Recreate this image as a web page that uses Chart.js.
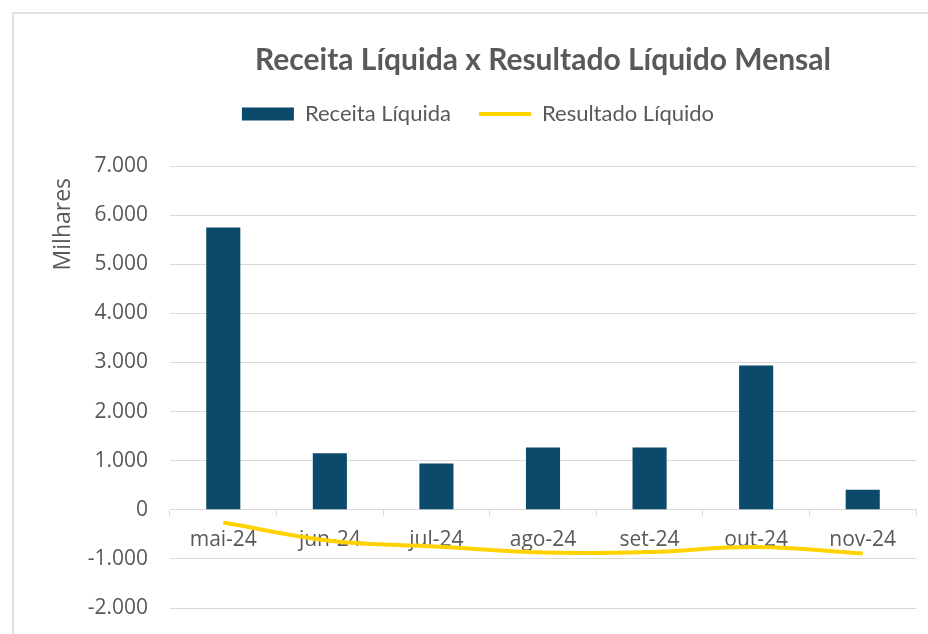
<!DOCTYPE html>
<html>
<head>
<meta charset="utf-8">
<script src="https://cdn.jsdelivr.net/npm/chart.js@4"></script>
<style>
  html, body { margin: 0; padding: 0; background: #ffffff; }
  #wrap { width: 928px; height: 634px; }
</style>
</head>
<body>
<div id="wrap"><canvas id="combo-chart"></canvas></div>
<script>
const months = ["mai-24", "jun-24", "jul-24", "ago-24", "set-24", "out-24", "nov-24"];
const receita = [5750, 1150, 940, 1270, 1270, 2940, 410];
const resultado = [-260, -630, -750, -870, -860, -760, -890];
const yTicks = [-2000, -1000, 0, 1000, 2000, 3000, 4000, 5000, 6000, 7000];

const gray = "#595959";

// light frame around the chart, like the spreadsheet object border
const frame = {
  id: "frame",
  afterInit(chart) {
    // leave some room between the legend and the plot
    const fit = chart.legend.fit;
    chart.legend.fit = function () {
      fit.call(this);
      this.height += 31;
    };
  },
  beforeDraw(chart) {
    const c = chart.ctx;
    c.save();
    c.strokeStyle = "#e2e2e2";
    c.lineWidth = 2;
    c.beginPath();
    c.moveTo(13, 700);
    c.lineTo(13, 13);
    c.lineTo(960, 13);
    c.stroke();
    c.restore();
  }
};

document.addEventListener("DOMContentLoaded", () => {
  const ctx = document.querySelector("#combo-chart");

  const data = {
    labels: months,
    datasets: [
      {
        type: "line",
        label: "Resultado Líquido",
        data: resultado,
        borderColor: "#FFD200",
        backgroundColor: "#FFD200",
        borderWidth: 4,
        tension: 0.4,
        pointRadius: 0,
        order: 0
      },
      {
        type: "bar",
        label: "Receita Líquida",
        data: receita,
        backgroundColor: "#0B4A6B",
        barPercentage: 0.32,
        categoryPercentage: 1,
        order: 1
      }
    ]
  };

  const config = {
    data: data,
    plugins: [frame],
    options: {
      responsive: true,
      maintainAspectRatio: false,
      animation: false,
      layout: { padding: { left: 40, right: 12, top: 0, bottom: 26 } },
      plugins: {
        title: {
          display: true,
          fullSize: false,
          text: "Receita Líquida x Resultado Líquido Mensal",
          color: gray,
          font: { family: "Lato", size: 30, weight: "bold", lineHeight: 1.0 },
          padding: { top: 45, bottom: 0 }
        },
        legend: {
          display: true,
          reverse: true,
          labels: {
            color: gray,
            font: { family: "Lato", size: 22 },
            usePointStyle: true,
            pointStyleWidth: 52,
            boxHeight: 13,
            padding: 28,
            generateLabels(chart) {
              const items = Chart.defaults.plugins.legend.labels.generateLabels(chart);
              items.forEach(item => {
                if (item.datasetIndex === 0) {
                  item.pointStyle = "line";
                  item.strokeStyle = "#FFD200";
                  item.lineWidth = 4;
                } else {
                  item.pointStyle = "rect";
                  item.lineWidth = 0;
                }
              });
              return items;
            }
          }
        },
        tooltip: { enabled: false }
      },
      scales: {
        x: {
          position: { y: 0 },
          grid: { drawOnChartArea: false, tickLength: 6, color: "#d9d9d9" },
          border: { color: "#d9d9d9" },
          ticks: {
            color: gray,
            font: { family: "Open Sans", size: 21 },
            padding: 12
          }
        },
        y: {
          min: -2000,
          max: 7000,
          afterBuildTicks(scale) {
            scale.ticks = yTicks.map(v => ({ value: v }));
          },
          afterFit(scale) {
            scale.width = 130;
          },
          grid: { color: "#d9d9d9", tickLength: 22, tickColor: "rgba(0,0,0,0)" },
          border: { display: false },
          ticks: {
            color: gray,
            font: { family: "Open Sans", size: 21 },
            padding: 0,
            callback: v => v.toLocaleString("pt-BR")
          },
          title: {
            display: true,
            text: "Milhares  ",
            align: "end",
            color: gray,
            font: { family: "Open Sans", size: 23 },
            padding: { top: 10, bottom: 0 }
          }
        }
      }
    }
  };

  new Chart(ctx, config);
});
</script>
</body>
</html>
